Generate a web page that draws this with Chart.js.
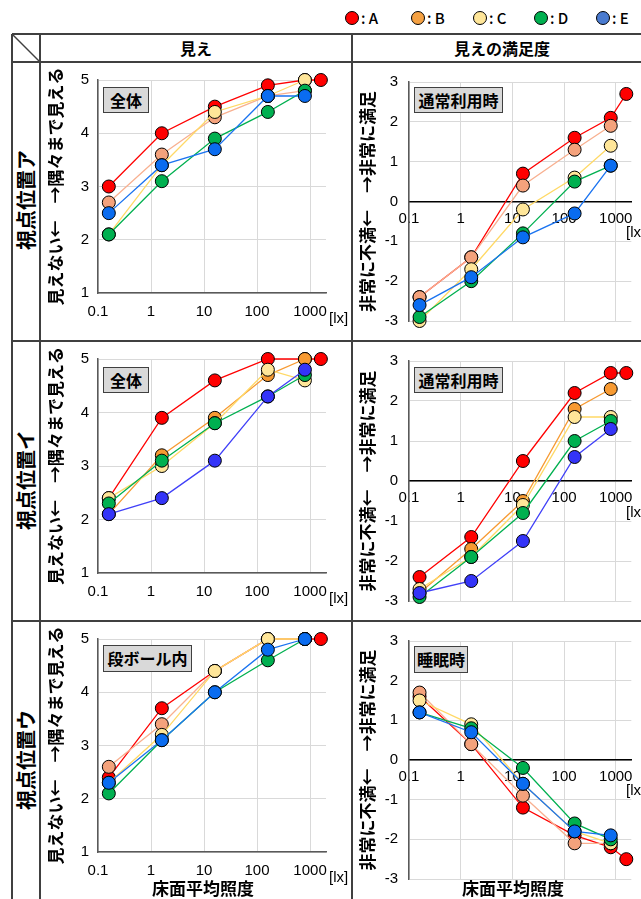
<!DOCTYPE html>
<html lang="ja">
<head>
<meta charset="utf-8">
<script src="https://cdn.jsdelivr.net/npm/chart.js@4.4.0/dist/chart.umd.min.js"></script>
<style>
  body { margin: 0; background: #fff; }
  #page { position: relative; width: 641px; height: 899px; overflow: hidden; font-family: 'Noto Sans CJK JP', sans-serif; color: #000; }
  #page canvas { position: absolute; }
  #frame { position: absolute; left: 0; top: 0; }
  .lg { position: absolute; top: 8px; font-size: 15px; font-weight: 500; line-height: 20px; white-space: nowrap; }
  .lg i { display: inline-block; width: 12px; height: 12px; border: 1px solid #000; border-radius: 50%; vertical-align: -1px; margin-right: 2px; }
  .head { position: absolute; top: 34px; height: 28px; line-height: 28px; text-align: center; font-weight: bold; font-size: 16px; }
  .row { position: absolute; width: 200px; height: 26px; line-height: 26px; text-align: center; font-weight: bold; font-size: 20px; transform: rotate(-90deg); white-space: nowrap; }
  .tag { position: absolute; background: #d9d9d9; border: 1px solid #404040; box-sizing: border-box; text-align: center; font-weight: bold; font-size: 16px; white-space: nowrap; }
  .lx { position: absolute; font-family: 'Liberation Sans', Arial, sans-serif; font-size: 15px; line-height: 18px; white-space: nowrap; }
  .xt { position: absolute; width: 200px; text-align: center; font-weight: bold; font-size: 17px; line-height: 22px; }
</style>
</head>
<body>
<div id="page">
  <svg id="frame" width="641" height="899">
    <g stroke="#404040" stroke-width="2">
      <line x1="12" y1="34" x2="641" y2="34"/>
      <line x1="12" y1="62" x2="641" y2="62"/>
      <line x1="12" y1="341" x2="641" y2="341"/>
      <line x1="12" y1="621" x2="641" y2="621"/>
      <line x1="12" y1="34" x2="12" y2="899"/>
      <line x1="40" y1="34" x2="40" y2="899"/>
      <line x1="352" y1="34" x2="352" y2="899"/>
      <line x1="12" y1="34" x2="40" y2="62" stroke-width="1.5"/>
    </g>
  </svg>

  <div class="lg" style="left:345px"><i style="background:#ff0000"></i>: A</div>
  <div class="lg" style="left:411px"><i style="background:#f5a142"></i>: B</div>
  <div class="lg" style="left:473px"><i style="background:#ffe699"></i>: C</div>
  <div class="lg" style="left:534px"><i style="background:#00b050"></i>: D</div>
  <div class="lg" style="left:596px"><i style="background:#4a7bd0"></i>: E</div>

  <div class="head" style="left:40px;width:312px">見え</div>
  <div class="head" style="left:352px;width:300px">見えの満足度</div>

  <div class="row" style="left:-74px;top:187px">視点位置ア</div>
  <div class="row" style="left:-74px;top:467px">視点位置イ</div>
  <div class="row" style="left:-74px;top:747px">視点位置ウ</div>

  <canvas id="c1" width="312" height="279" style="left:40px;top:62px;width:312px;height:279px"></canvas>
  <canvas id="c2" width="289" height="279" style="left:352px;top:62px;width:289px;height:279px"></canvas>
  <canvas id="c3" width="312" height="280" style="left:40px;top:341px;width:312px;height:280px"></canvas>
  <canvas id="c4" width="289" height="280" style="left:352px;top:341px;width:289px;height:280px"></canvas>
  <canvas id="c5" width="312" height="278" style="left:40px;top:621px;width:312px;height:278px"></canvas>
  <canvas id="c6" width="289" height="278" style="left:352px;top:621px;width:289px;height:278px"></canvas>

  <div class="tag" style="left:103px;top:87px;width:46px;height:26px;line-height:24px">全体</div>
  <div class="tag" style="left:414px;top:87px;width:89px;height:26px;line-height:24px">通常利用時</div>
  <div class="tag" style="left:103px;top:367px;width:46px;height:26px;line-height:24px">全体</div>
  <div class="tag" style="left:414px;top:367px;width:89px;height:26px;line-height:24px">通常利用時</div>
  <div class="tag" style="left:103px;top:645px;width:89px;height:27px;line-height:25px">段ボール内</div>
  <div class="tag" style="left:414px;top:646px;width:54px;height:27px;line-height:25px">睡眠時</div>

  <div class="lx" style="left:329px;top:309px">[lx]</div>
  <div class="lx" style="left:329px;top:589px">[lx]</div>
  <div class="lx" style="left:329px;top:868px">[lx]</div>
  <div class="lx" style="left:626px;top:223px">[lx]</div>
  <div class="lx" style="left:626px;top:503px">[lx]</div>
  <div class="lx" style="left:626px;top:781px">[lx]</div>

  <div class="xt" style="left:103px;top:877px">床面平均照度</div>
  <div class="xt" style="left:413px;top:877px">床面平均照度</div>
</div>

<script>
// 床面平均照度 [lx]
const lux = [0.16, 1.6, 16, 160, 800, 1600];
const names = ['A', 'B', 'C', 'D', 'E'];
const xTicks = [0.1, 1, 10, 100, 1000];
const viewTicks = [1, 2, 3, 4, 5];
const satTicks = [-3, -2, -1, 0, 1, 2, 3];

// 見え (視点位置ア / イ / ウ), rows = A..E
const viewA = [
  [3.0, 4.0, 4.5, 4.9, 5.0, 5.0],
  [2.7, 3.6, 4.3, 4.7, 4.8, null],
  [2.1, 3.4, 4.4, 4.7, 5.0, null],
  [2.1, 3.1, 3.9, 4.4, 4.8, null],
  [2.5, 3.4, 3.7, 4.7, 4.7, null]
];
const viewI = [
  [2.4, 3.9, 4.6, 5.0, 5.0, 5.0],
  [2.1, 3.2, 3.9, 4.7, 5.0, null],
  [2.4, 3.0, 3.8, 4.8, 4.6, null],
  [2.3, 3.1, 3.8, 4.3, 4.7, null],
  [2.1, 2.4, 3.1, 4.3, 4.8, null]
];
const viewU = [
  [2.4, 3.7, 4.4, 5.0, 5.0, 5.0],
  [2.6, 3.4, 4.4, 5.0, 5.0, null],
  [2.3, 3.2, 4.4, 5.0, 5.0, null],
  [2.1, 3.1, 4.0, 4.6, 5.0, null],
  [2.3, 3.1, 4.0, 4.8, 5.0, null]
];

// 見えの満足度
const satA = [
  [-2.4, -1.4, 0.7, 1.6, 2.1, 2.7],
  [-2.4, -1.4, 0.4, 1.3, 1.9, null],
  [-3.0, -1.7, -0.2, 0.6, 1.4, null],
  [-2.9, -2.0, -0.8, 0.5, 0.9, null],
  [-2.6, -1.9, -0.9, -0.3, 0.9, null]
];
const satI = [
  [-2.4, -1.4, 0.5, 2.2, 2.7, 2.7],
  [-2.8, -1.7, -0.5, 1.8, 2.3, null],
  [-2.7, -1.9, -0.6, 1.6, 1.6, null],
  [-2.9, -1.9, -0.8, 1.0, 1.5, null],
  [-2.8, -2.5, -1.5, 0.6, 1.3, null]
];
const satU = [
  [1.6, 0.4, -1.2, -1.9, -2.2, -2.5],
  [1.7, 0.4, -0.9, -2.1, -2.1, null],
  [1.5, 0.9, -0.6, -1.8, -2.1, null],
  [1.2, 0.8, -0.2, -1.6, -2.0, null],
  [1.2, 0.7, -0.6, -1.8, -1.9, null]
];

const fillsA = ['#ff0000', '#f4a27c', '#ffe699', '#00b050', '#0a6cf0'];
const linesA = ['#ff0000', '#f8b090', '#ffd966', '#00b050', '#1a73f0'];
const fillsB = ['#ff0000', '#f79a32', '#ffe699', '#00b050', '#3434f8'];
const linesB = ['#ff0000', '#f79a32', '#ffd966', '#00b050', '#4040f8'];

const tickFont = { family: 'Liberation Sans', size: 15 };
const titleFont = { family: 'Noto Sans CJK JP', size: 17, weight: 'bold' };

function panel(id, values, fills, lines, isView, padTop, xHeight) {
  const canvas = document.getElementById(id);
  const yTicks = isView ? viewTicks : satTicks;
  new Chart(canvas, {
    type: 'line',
    data: {
      datasets: values.map((vals, i) => ({
        label: names[i],
        data: lux.map((x, j) => ({ x: x, y: vals[j] })).filter(p => p.y !== null),
        borderColor: lines[i],
        backgroundColor: fills[i],
        pointBackgroundColor: fills[i],
        pointBorderColor: '#000',
        pointBorderWidth: 1,
        pointRadius: 6.5,
        borderWidth: 1.3,
        tension: 0,
        clip: false,
        order: 4 - i
      }))
    },
    options: {
      responsive: false,
      devicePixelRatio: 1,
      animation: false,
      events: [],
      layout: { padding: { top: padTop, right: isView ? 26 : 8, bottom: 0, left: 0 } },
      plugins: { legend: { display: false }, tooltip: { enabled: false } },
      scales: {
        x: {
          type: 'logarithmic',
          min: 0.1,
          max: 2000,
          position: isView ? 'bottom' : { y: 0 },
          afterBuildTicks: s => { s.ticks = xTicks.map(v => ({ value: v })); },
          afterFit: s => { s.height = xHeight; },
          ticks: { callback: v => String(v), font: tickFont, color: '#000', padding: isView ? 10 : 8, maxRotation: 0, autoSkip: false },
          grid: { color: '#d9d9d9', lineWidth: 1, drawTicks: false },
          border: { color: isView ? '#595959' : '#000', width: 1.5 }
        },
        y: {
          min: yTicks[0],
          max: yTicks[yTicks.length - 1],
          afterBuildTicks: s => { s.ticks = yTicks.map(v => ({ value: v })); },
          afterFit: s => { s.width = isView ? 58 : 57; },
          ticks: { callback: v => String(v), font: tickFont, color: '#000', padding: isView ? 9 : 11 },
          grid: { color: '#d9d9d9', lineWidth: 1, drawTicks: false },
          border: { color: '#595959', width: 1.5 },
          title: {
            display: true,
            text: isView ? '見えない←　→隅々まで見える' : '非常に不満←　→非常に満足',
            font: titleFont,
            color: '#000',
            padding: { top: 5, bottom: 0 }
          }
        }
      }
    }
  });
}

panel('c1', viewA, fillsA, linesA, true, 17, 48);
panel('c2', satA, fillsA, linesA, false, 18, 28);
panel('c3', viewI, fillsB, linesB, true, 18, 48);
panel('c4', satI, fillsB, linesB, false, 18, 29);
panel('c5', viewU, fillsA, linesA, true, 17, 47);
panel('c6', satU, fillsA, linesA, false, 18, 27);
</script>
</body>
</html>
